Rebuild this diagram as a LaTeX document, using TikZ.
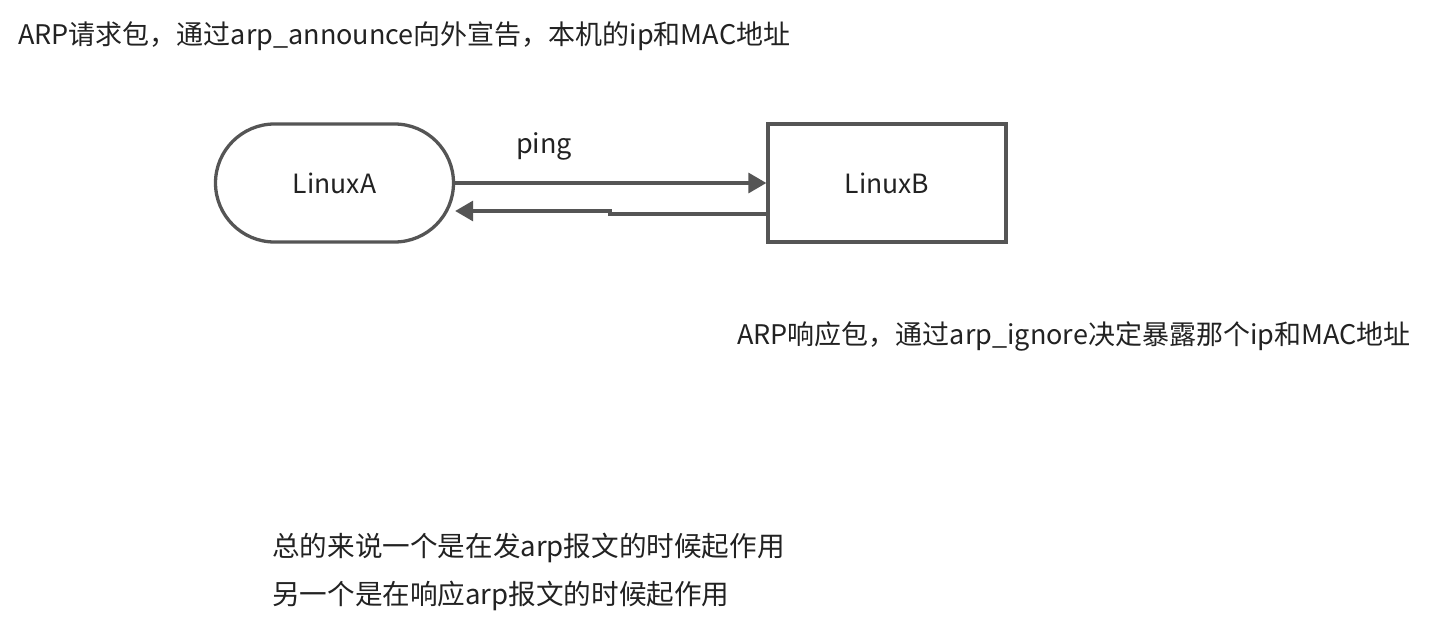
\documentclass[tikz,border=0pt]{standalone}
\usepackage{fontspec}
\setmainfont{Noto Sans CJK SC}
\usetikzlibrary{arrows.meta}
\definecolor{ln}{HTML}{555555}
\definecolor{tx}{HTML}{222222}
\tikzset{
  box/.style={draw=ln, line width=3.3pt, minimum width=238pt, minimum height=118pt, text=tx, font=\fontsize{26.5}{31}\selectfont},
  arr/.style={draw=ln, line width=3.3pt, -{Triangle[length=18pt,width=20pt]}},
  lbl/.style={text=tx, inner sep=0pt, font=\fontsize{27}{32}\selectfont},
  lblb/.style={text=tx, inner sep=0pt, font=\fontsize{27.6}{32}\selectfont}
}
\begin{document}
\begin{tikzpicture}[x=1pt,y=-1pt]
\useasboundingbox[fill=white] (0,0) rectangle (1430,629);
\node[lbl, anchor=west] (t1) at (18,36) {ARP请求包，通过arp\_announce向外宣告，本机的ip和MAC地址};
\node[box, rounded corners=59pt] (A) at (334.5,183) {LinuxA};
\node[box] (B) at (887,183) {LinuxB};
\node[lbl] (ping) at (544,146) {ping};
\draw[arr] (A.east) -- (B.west);
\coordinate (j1) at (610,214);
\coordinate (j2) at (610,211);
\draw[arr] (B.west |- j1) -- (j1) -- (j2) -- (A.east |- j2);
\node[lbl, anchor=west] (t2) at (737,336) {ARP响应包，通过arp\_ignore决定暴露那个ip和MAC地址};
\node[lblb, anchor=west] (t3) at (272,548) {总的来说一个是在发arp报文的时候起作用};
\node[lblb, anchor=west] (t4) at (272,596) {另一个是在响应arp报文的时候起作用};
\end{tikzpicture}
\end{document}
